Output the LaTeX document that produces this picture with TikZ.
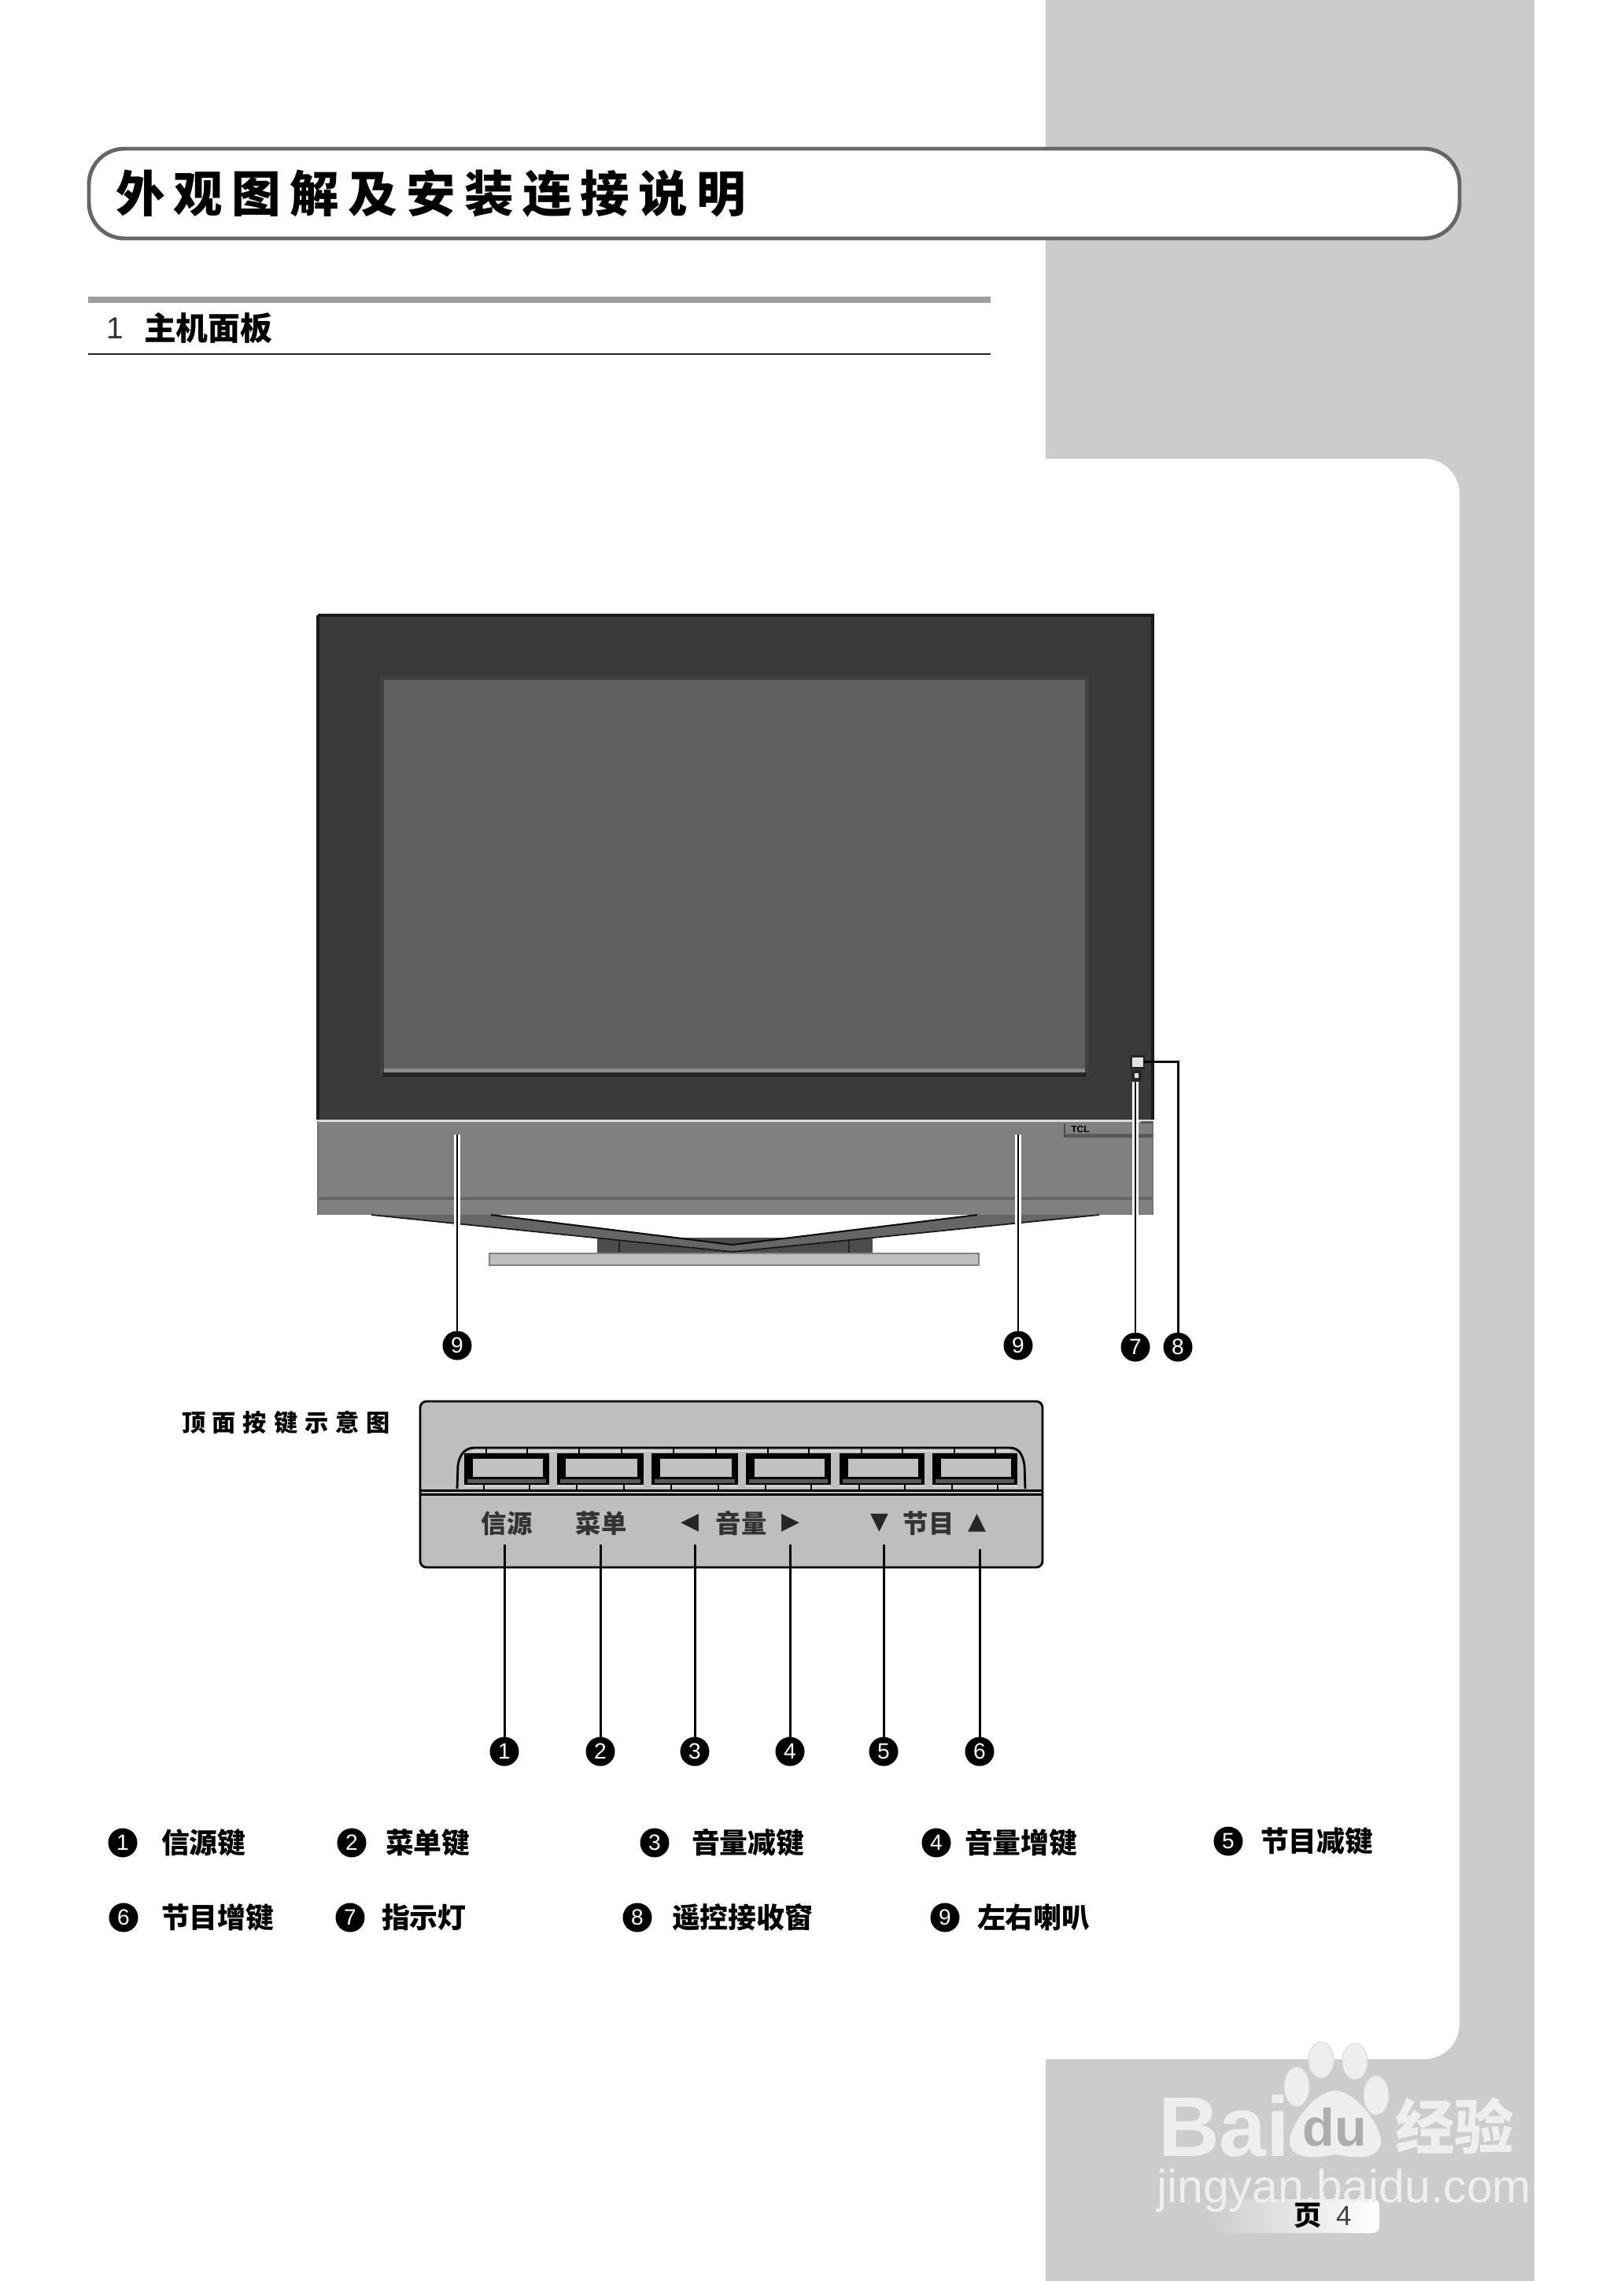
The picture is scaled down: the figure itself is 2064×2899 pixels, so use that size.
\documentclass[tikz,border=0pt]{standalone}
\usepackage{fontspec}
\usetikzlibrary{positioning,arrows.meta}
\setmainfont{Liberation Sans}
\newfontfamily\cjk{Noto Sans CJK SC}
\newfontfamily\cjktitle[LetterSpace=18]{Noto Sans CJK SC}
\newfontfamily\cjkwide[LetterSpace=29]{Noto Sans CJK SC}
\newfontfamily\symb{DejaVu Sans}
\definecolor{bandgray}{RGB}{204,204,204}
\definecolor{bezelgray}{RGB}{58,58,58}
\definecolor{screengray}{RGB}{96,96,96}
\definecolor{bargray}{RGB}{128,128,128}
\definecolor{keygray}{RGB}{190,190,190}
\definecolor{markgray}{RGB}{238,238,238}
\tikzset{
  every node/.style={inner sep=0pt, outer sep=0pt},
  numdot/.style={circle, fill=black, minimum size=0.37cm, text=white, font=\fontsize{8}{8}\selectfont},
  legendtext/.style={anchor=west, font=\cjk\fontsize{10.2}{11}\selectfont\bfseries},
  keytext/.style={text=black!80, font=\cjk\fontsize{9.2}{10}\selectfont\bfseries},
  keymark/.style={text=black!85, font=\symb\fontsize{8.5}{10}\selectfont},
  leaderline/.style={line width=0.7pt, black, preaction={draw=white, line width=2.2pt}},
  plainleader/.style={line width=0.85pt, black},
}
\begin{document}
\begin{tikzpicture}[x=0.01cm,y=-0.01cm]
  \useasboundingbox (0,0) rectangle (2064,2899);
  % page band and panel
  \fill[bandgray] (1329,0) rectangle (1950,2899);
  \fill[white, rounded corners=0.45cm] (1100,583) rectangle (1855,2617);
  \fill[white] (1100,583) rectangle (1329,2617);
  % title
  \draw[black!60, line width=1.4pt, fill=white, rounded corners=0.45cm] (113,189) rectangle (1855,303);
  \node[anchor=west, font=\cjktitle\fontsize{17.8}{20}\selectfont\bfseries] (title) at (147,246) {外观图解及安装连接说明};
  \fill[black!38] (112,377) rectangle (1259,385);
  \draw[black!85, line width=0.8pt] (112,450) -- (1259,450);
  \node[font=\fontsize{11}{12}\selectfont, text=black!80] (secnum) at (146,417) {1};
  \node[anchor=west, font=\cjk\fontsize{11.6}{12}\selectfont\bfseries] (sectitle) at (183,417) {主机面板};
  % tv
  \fill[bezelgray] (404,782) rectangle (1465,1423);
  \draw[black!90, line width=0.9pt] (404,782) -- (1465,782) -- (1465,1423) (404,782) -- (404,1423);
  \draw[black!75, line width=1.6pt] (486,862) rectangle (1381,1367);
  \fill[screengray] (488,864) rectangle (1379,1368);
  \fill[black!85] (486,1363) rectangle (1381,1369);
  \fill[black!45] (488,1358) rectangle (1379,1363);
  \fill[bargray] (404,1425) rectangle (1465,1544);
  \fill[white!85!black] (404,1423) rectangle (1465,1426);
  \fill[black!60] (404,1521) rectangle (1465,1525);
  \draw[black!55, line width=0.4pt] (404,1425) -- (404,1544) (1465,1425) -- (1465,1544);
  \fill[black!65] (1353,1441) rectangle (1465,1446);
  \fill[black!65] (1450,1425) rectangle (1465,1428);
  \draw[black!70, line width=0.5pt] (1353,1428) -- (1353,1446);
  \node[font=\fontsize{3.4}{4}\selectfont\bfseries] (logo) at (1373,1435) {TCL};
  % stand
  \fill[black!70] (759,1573) rectangle (1109,1593);
  \draw[black!85, line width=0.3pt] (787,1573) -- (787,1593) (1079,1573) -- (1079,1593);
  \fill[black!60] (472,1544) -- (624,1544) -- (931,1582) -- (1242,1544) -- (1397,1544) -- (931,1591) -- cycle;
  \draw[black!95, line width=0.6pt] (624,1544) -- (931,1582) -- (1242,1544);
  \draw[black!90, line width=0.5pt] (472,1544) -- (931,1591) -- (1397,1544);
  \fill[keygray, draw=black!50, line width=0.4pt] (622,1593) rectangle (1244,1608);
  % sensor
  \fill[black!85] (1436,1341) rectangle (1455,1359);
  \fill[white!88!black] (1439,1344) rectangle (1453,1356);
  \fill[black!85] (1438,1360) rectangle (1451,1374);
  \fill[white!90!black] (1442,1364) rectangle (1447,1370);
  % tv callouts
  \node[numdot] (dotnine) at (581,1710) {9};
  \node[numdot] (dotninb) at (1294,1710) {9};
  \node[numdot] (dotseven) at (1443,1712) {7};
  \node[numdot] (doteight) at (1497,1712) {8};
  \coordinate (spkl) at (581,1442);
  \coordinate (spkr) at (1294,1442);
  \coordinate (led) at (1443,1375);
  \coordinate (ir) at (1453,1349);
  \draw[leaderline] (spkl) -- (dotnine);
  \draw[leaderline] (spkr) -- (dotninb);
  \draw[leaderline] (led) -- (dotseven);
  \draw[plainleader] (ir) -| (doteight);
  % key panel
  \node[font=\cjkwide\fontsize{8.6}{10}\selectfont\bfseries, anchor=west] (keyhead) at (231,1808) {顶面按键示意图};
  \draw[black, line width=0.8pt, fill=keygray, rounded corners=0.08cm] (534,1781) rectangle (1325,1992);
  \draw[black, line width=0.8pt] (581,1892) -- (582,1862) .. controls (584,1850) and (590,1840) .. (603,1840) -- (1283,1840) .. controls (1296,1840) and (1300,1850) .. (1302,1862) -- (1303,1892);
  \draw[white!85!black, line width=0.8pt] (600,1844) -- (1285,1844);
  \foreach \ka/\kb in {590/698,708/818,828/938,948/1056,1067/1175,1185/1293}{
    \draw[black, line width=0.6pt] (\ka+28,1840) -- (\ka+28,1847) (\kb-28,1840) -- (\kb-28,1847);
    \draw[white!85!black, line width=0.8pt] (\ka,1889) -- (\kb,1889);
    \draw[black, line width=0.6pt] (\ka+25,1887) -- (\ka+25,1893) (\kb-25,1887) -- (\kb-25,1893);
    \fill[black] (\ka,1847) rectangle (\kb,1887);
    \fill[keygray!95!white] (\ka+11,1854) rectangle (\kb-8,1877);
    \fill[black!65] (\ka+4,1880) rectangle (\kb-4,1885);
  }
  \fill[black] (534,1893) rectangle (1325,1896);
  \fill[black] (534,1898) rectangle (1325,1901);
  \node[keytext] (ksource) at (644,1936) {信源};
  \node[keytext] (kmenu) at (764,1936) {菜单};
  \node[keymark] (kvoldn) at (877,1936) {◀};
  \node[keytext] (kvol) at (942,1936) {音量};
  \node[keymark] (kvolup) at (1005,1936) {▶};
  \node[keymark] (kchdn) at (1118,1936) {▼};
  \node[keytext] (kch) at (1180,1936) {节目};
  \node[keymark] (kchup) at (1242,1936) {▲};
  % key callouts
  \foreach \kx/\kn/\ky in {641/1/1963,763/2/1963,883/3/1963,1004/4/1963,1123/5/1963,1245/6/1969}{
    \node[numdot] (dot\kn) at (\kx,2226) {\kn};
    \coordinate (top\kn) at (\kx,\ky);
    \draw[plainleader] (top\kn) -- (dot\kn);
  }
  % legend
  \foreach \lx/\ly/\ln/\tx/\tname/\ltxt in {
    156/2342/1/205/la/信源键, 447/2342/2/490/lb/菜单键, 832/2342/3/879/lc/音量减键,
    1190/2342/4/1226/ld/音量增键, 1561/2340/5/1602/le/节目减键,
    157/2437/6/205/lf/节目增键, 445/2437/7/485/lg/指示灯, 810/2437/8/854/lh/遥控接收窗,
    1201/2437/9/1242/li/左右喇叭}{
    \node[numdot] (\tname dot) at (\lx,\ly) {\ln};
    \node[legendtext] (\tname) at (\tx,\ly) {\ltxt};
  }
  % page tab
  \path[left color=bandgray, right color=white, rounded corners=0.08cm] (1537,2795) -- (1753,2795) -- (1753,2838) -- (1537,2838) -- cycle;
  % watermark
  \node[text=markgray, font=\fontsize{30.6}{32}\selectfont\bfseries, anchor=west] (wmbai) at (1472,2702) {Bai};
  \foreach \wx/\wy/\wr in {1679/2618/23,1722/2620/23,1648/2652/25,1749/2663/25}
    \fill[markgray, draw=black!14, line width=0.3pt] (\wx,\wy) ellipse [x radius=16, y radius=\wr];
  \fill[markgray] (1697,2657) .. controls (1722,2658) and (1750,2695) .. (1755,2718) .. controls (1757,2745) and (1725,2744) .. (1697,2738) .. controls (1669,2744) and (1637,2745) .. (1639,2718) .. controls (1644,2695) and (1672,2658) .. (1697,2657);
  \node[text=black!32, font=\fontsize{19}{20}\selectfont\bfseries] (wmdu) at (1696,2704) {du};
  \node[text=markgray, font=\cjk\fontsize{21.5}{23}\selectfont\bfseries, anchor=west] (wmjy) at (1773,2702) {经验};
  \node[text=markgray, font=\fontsize{16.8}{18}\selectfont, anchor=west] (wmurl) at (1470,2784) {jingyan.baidu.com};
  \node[font=\cjk\fontsize{10}{11}\selectfont\bfseries] (pageword) at (1662,2816) {页};
  \node[font=\fontsize{10}{11}\selectfont, text=black!75] (pagenum) at (1708,2816) {4};
\end{tikzpicture}
\end{document}
